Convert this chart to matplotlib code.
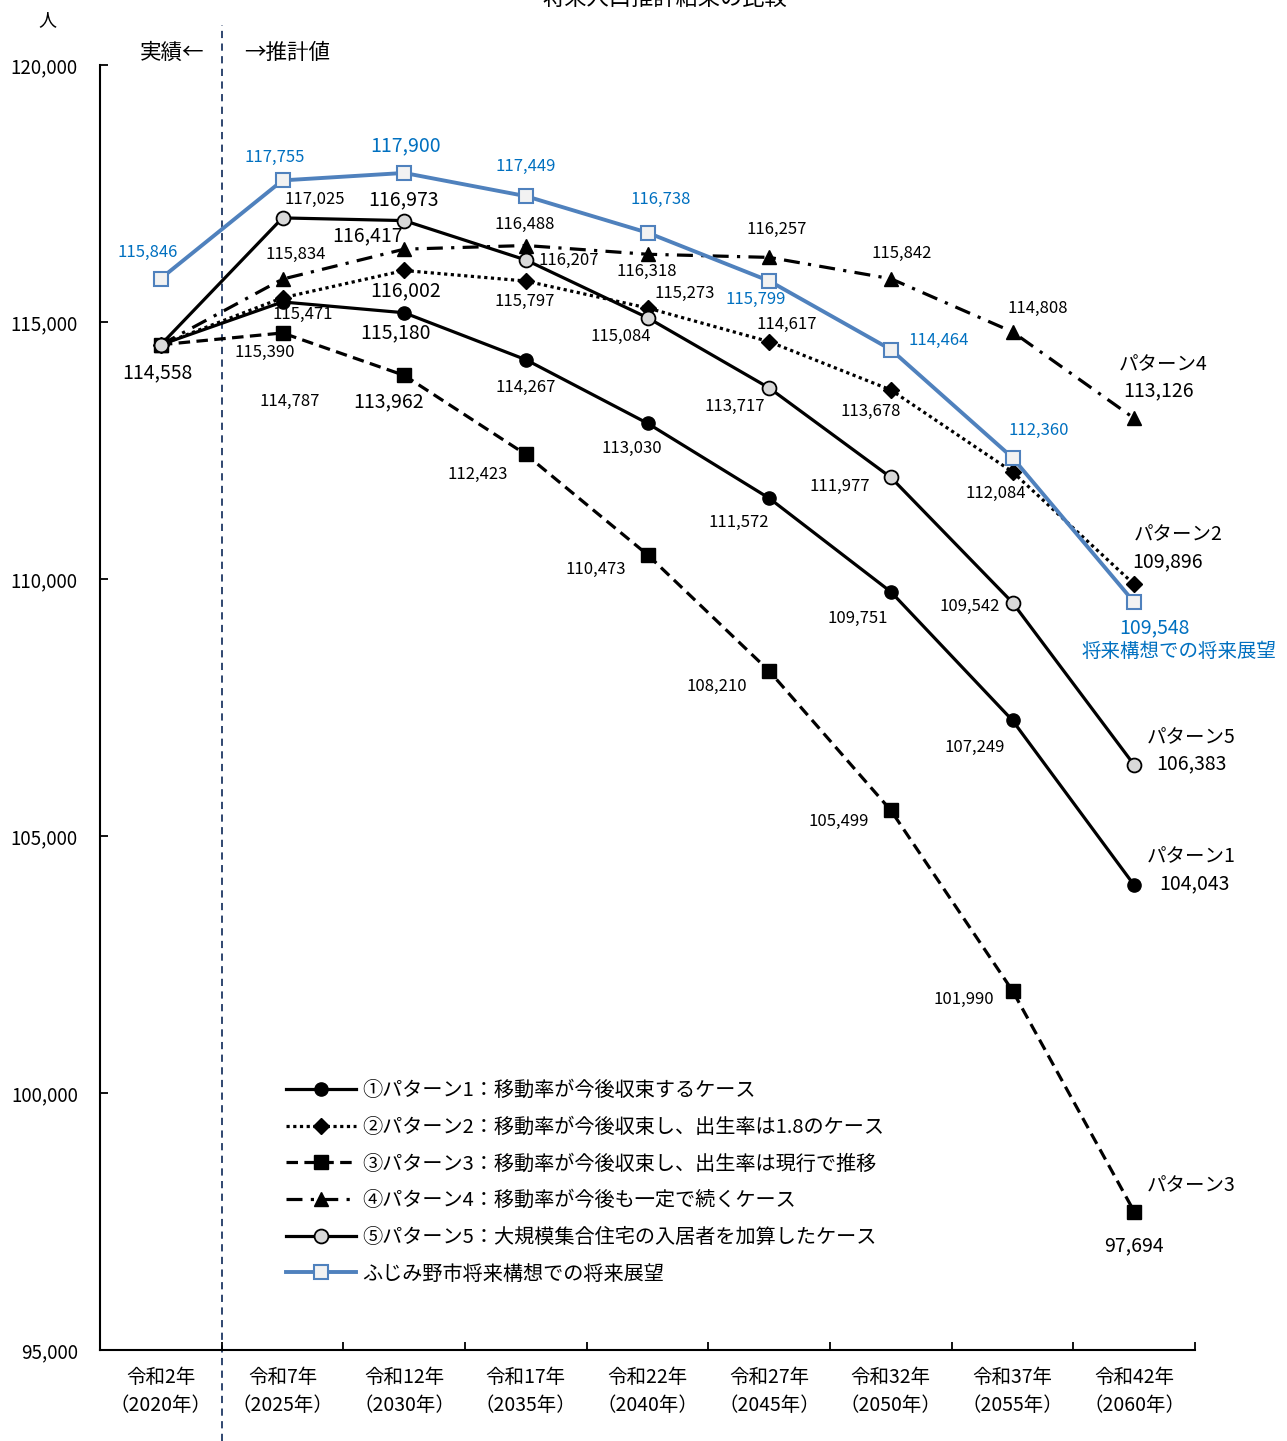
import matplotlib
matplotlib.use('Agg')
import matplotlib.pyplot as plt

plt.rcParams['font.family'] = ['Noto Sans CJK JP', 'DejaVu Sans']

# ---- data ----
years = ['令和2年\n（2020年）', '令和7年\n（2025年）', '令和12年\n（2030年）',
         '令和17年\n（2035年）', '令和22年\n（2040年）', '令和27年\n（2045年）',
         '令和32年\n（2050年）', '令和37年\n（2055年）', '令和42年\n（2060年）']

pattern1 = [114558, 115390, 115180, 114267, 113030, 111572, 109751, 107249, 104043]
pattern2 = [114558, 115471, 116002, 115797, 115273, 114617, 113678, 112084, 109896]
pattern3 = [114558, 114787, 113962, 112423, 110473, 108210, 105499, 101990, 97694]
pattern4 = [114558, 115834, 116417, 116488, 116318, 116257, 115842, 114808, 113126]
pattern5 = [114558, 117025, 116973, 116207, 115084, 113717, 111977, 109542, 106383]
vision = [115846, 117755, 117900, 117449, 116738, 115799, 114464, 112360, 109548]

legend_labels = ['①パターン1：移動率が今後収束するケース',
                 '②パターン2：移動率が今後収束し、出生率は1.8のケース',
                 '③パターン3：移動率が今後収束し、出生率は現行で推移',
                 '④パターン4：移動率が今後も一定で続くケース',
                 '⑤パターン5：大規模集合住宅の入居者を加算したケース',
                 'ふじみ野市将来構想での将来展望']

# label offsets in pixels (dx, dy up), None = no label
p1_off = [(-3, -28), (-18, -50), (-9, -20), (0, -28), (-16, -25), (-30, -24), (-33, -27), (-38, -27), None]
p2_off = [None, (20, -17), (1, -20), (-1, -20), (37, 15), (18, 17), (-20, -22), (-17, -22), None]
p3_off = [None, (7, -69), (-16, -26), (-48, -20), (-52, -15), (-52, -15), (-52, -11), (-49, -9), None]
p4_off = [None, (13, 25), (-37, 13), (-1, 21), (-1, -17), (8, 28), (11, 25), (25, 23), None]
p5_off = [None, (32, 18), (-1, 21), (43, 0), (-27, -19), (-34, -19), (-51, -9), (-43, -4), None]
vi_off = [(-13, 26), (-8, 23), (1, 27), (0, 30), (13, 33), (-13, -19), (48, 9), (26, 27), None]
big_idx = [2]

BLUE = '#4f81bd'
BLUE_TXT = '#0070c0'

fig = plt.figure(figsize=(12.87, 14.41), dpi=100)
ax = fig.add_axes([100 / 1287, 1 - 1350 / 1441, 1095 / 1287, 1285 / 1441])
x = list(range(len(years)))

series = [
    (pattern1, p1_off, dict(color='black', lw=2.3, ls='-', marker='o', ms=9.5, mfc='black', mec='black')),
    (pattern2, p2_off, dict(color='black', lw=2.3, ls=(0, (1, 1.1)), marker='D', ms=8, mfc='black', mec='black')),
    (pattern3, p3_off, dict(color='black', lw=2.3, ls=(0, (3.6, 2)), marker='s', ms=10, mfc='black', mec='black')),
    (pattern4, p4_off, dict(color='black', lw=2.3, ls=(0, (5, 2.6, 1, 2.6)), marker='^', ms=10, mfc='black', mec='black')),
    (pattern5, p5_off, dict(color='black', lw=2.3, ls='-', marker='o', ms=10, mfc='#d9d9d9', mec='black', mew=1.3)),
    (vision, vi_off, dict(color=BLUE, lw=2.8, ls='-', marker='s', ms=10, mfc='#f2f2f2', mec=BLUE, mew=1.5)),
]

handles = []
for vals, offs, st in series:
    h, = ax.plot(x, vals, clip_on=False, zorder=3, **st)
    handles.append(h)
    col = BLUE_TXT if vals is vision else 'black'
    for i, (v, off) in enumerate(zip(vals, offs)):
        if off is None:
            continue
        fs = 14 if (i in big_idx or i == 0 and vals is pattern1) else 12
        ax.annotate(f'{v:,}', (i, v), xytext=off, textcoords='offset pixels',
                    ha='center', va='center', fontsize=fs, color=col, annotation_clip=False)

# labels at the right end
end_labels = [
    (pattern4, 'パターン4', 29, 54, 'black'), (pattern4, f'{pattern4[-1]:,}', 24, 28, 'black'),
    (pattern2, 'パターン2', 44, 50, 'black'), (pattern2, f'{pattern2[-1]:,}', 33, 23, 'black'),
    (vision, f'{vision[-1]:,}', 20, -26, BLUE_TXT), (vision, '将来構想での将来展望', 45, -49, BLUE_TXT),
    (pattern5, 'パターン5', 57, 27, 'black'), (pattern5, f'{pattern5[-1]:,}', 57, 1, 'black'),
    (pattern1, 'パターン1', 57, 29, 'black'), (pattern1, f'{pattern1[-1]:,}', 60, 1, 'black'),
    (pattern3, 'パターン3', 57, 26, 'black'), (pattern3, f'{pattern3[-1]:,}', 0, -34, 'black'),
]
for vals, txt, dx, dy, col in end_labels:
    ax.annotate(txt, (8, vals[-1]), xytext=(dx, dy), textcoords='offset pixels',
                ha='center', va='center', fontsize=14, color=col, annotation_clip=False)

ax.set_xlim(-0.5, 8.5)
ax.set_ylim(95000, 120000)
ax.set_yticks(range(95000, 120001, 5000))
ax.set_yticklabels([f'{t:,}' for t in range(95000, 120001, 5000)], fontsize=13.5)
ax.set_xticks(x)
ax.set_xticklabels(years, fontsize=14, linespacing=1.45)
ax.set_xticks([i + 0.5 for i in range(9)], minor=True)
ax.tick_params(axis='x', which='major', length=0, pad=12)
ax.tick_params(axis='x', which='minor', direction='in', length=6, width=1.3)
ax.tick_params(axis='y', direction='in', length=6, width=1.3, pad=16)
for s in ['top', 'right']:
    ax.spines[s].set_visible(False)
for s in ['left', 'bottom']:
    ax.spines[s].set_linewidth(1.5)

# boundary between actual and projected values
ax.axvline(0.5, ymin=-0.071, ymax=1.031, color='#1f3864', lw=1.3, ls=(0, (4, 3)), clip_on=False, zorder=1)

fig.text(47 / 1287, 1 - 20 / 1441, '人', ha='center', va='center', fontsize=13)
fig.text(172 / 1287, 1 - 53 / 1441, '実績←', ha='center', va='center', fontsize=15.5)
fig.text(287 / 1287, 1 - 53 / 1441, '→推計値', ha='center', va='center', fontsize=15.5)
fig.text(665 / 1287, 1 - 5 / 1441, '将来人口推計結果の比較', ha='center', va='baseline', fontsize=16)

ax.legend(handles, legend_labels, loc='upper left', bbox_to_anchor=(286 / 1287, 1 - 1080 / 1441),
          bbox_transform=fig.transFigure, frameon=False, fontsize=14.5, handlelength=3.5,
          handletextpad=0.3, labelspacing=0.78, borderpad=0, borderaxespad=0)

fig.savefig('out.png', dpi=100)
